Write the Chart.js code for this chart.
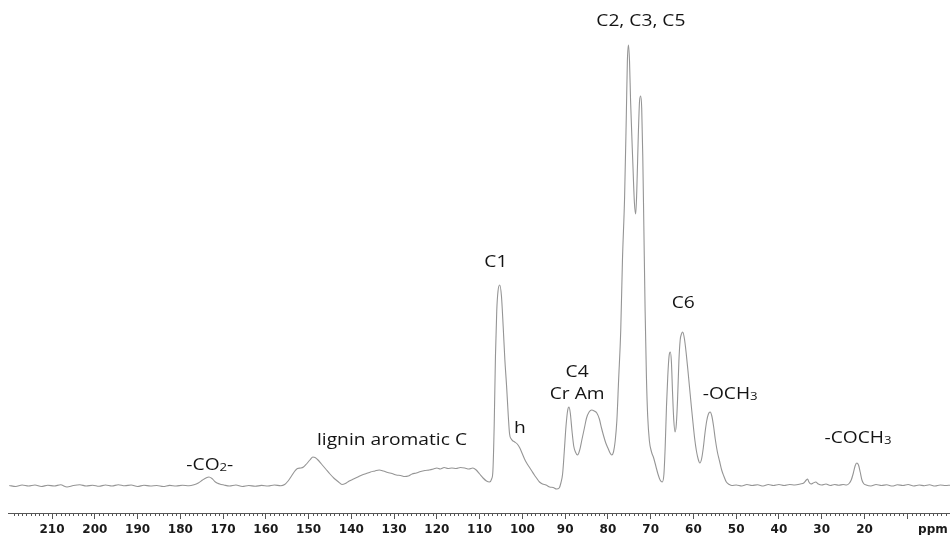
<!DOCTYPE html>
<html>
<head>
<meta charset="utf-8">
<script src="https://cdn.jsdelivr.net/npm/chart.js@4.4.1/dist/chart.umd.min.js"></script>
<style>
html,body{margin:0;padding:0;background:#ffffff;}
canvas{display:block;}
</style>
</head>
<body>
<canvas id="c" width="950" height="535"></canvas>
<script>
// ---- data (chemical shift in ppm, signal intensity in arbitrary units) ----
const ppm = [
220,218.5,217,215.5,214,212.5,211,209.5,208,206.5,205,203.5,202,200.5,199,197.5,196,194.5,193,191.5,190,188.5,187,185.5,184,182.5,181,179.5,178,
176.8,175.8,174.8,174,173.3,172.6,171.8,170.8,169.8,168.5,167,165.5,164,162.5,161,159.5,158,156.5,
155.6,154.8,154,153.2,152.6,151.8,151.2,150.5,149.7,149,148.5,147.8,147,146,145,144,143,142.2,141.4,140.5,139.5,138.5,137.5,136.5,135.5,134.5,133.5,132.5,131.5,130.5,129.5,128.5,127.5,126.7,125.8,124.8,123.8,122.8,121.8,120.8,120,119.2,118.3,117.4,116.5,115.5,114.5,113.5,112.5,111.6,110.8,110,109.2,108.4,107.7,107.2,
106.9,106.6,106.3,106.0,105.7,105.3,104.9,104.5,104.1,103.7,103.3,103.0,102.6,102.2,101.8,101.2,100.6,100.1,99.5,99.0,98.4,97.8,97.2,96.7,96.0,95.3,94.5,93.6,92.8,92.0,91.4,
91.0,90.6,90.2,89.8,89.4,89.1,88.8,88.4,88.0,87.6,87.1,86.6,86.1,85.5,85.0,84.4,83.8,83.2,82.6,82.0,81.5,81.0,80.5,80.0,79.5,79.1,78.7,78.3,77.9,77.5,77.0,76.6,76.1,75.7,75.45,75.2,74.95,74.7,74.2,73.8,73.5,73.25,72.9,72.6,72.35,72.1,71.85,71.6,71.3,71.0,70.7,70.3,69.8,69.3,68.8,68.3,67.8,67.3,
66.9,66.6,66.3,66.0,65.7,65.4,65.15,64.9,64.6,64.3,64.0,63.7,63.4,63.1,62.8,62.5,62.1,61.7,61.3,60.9,60.5,60.1,59.7,59.3,58.9,58.5,58.1,57.7,57.3,56.9,56.5,56.1,55.7,55.3,54.9,54.4,53.9,53.4,52.9,52.3,51.6,51.0,
50,48.7,47.5,46.3,45,43.7,42.5,41.3,40,38.8,37.5,36.3,35,34.2,33.6,33.3,33.0,32.5,32,31.4,30.8,30,29,28,27,26,25,24.2,23.6,23.1,22.6,22.2,21.8,21.4,21.0,20.6,20.2,19.6,18.5,17.3,16,14.8,13.5,12.3,11,9.8,8.5,7.2,6,4.8,3.5,2.3,1,0
];
const intensity = [
0.5,-0.5,1,0,1,-0.5,0.8,0,1.2,-1,0.5,1.2,0,0.8,-0.3,1,0,1.3,0.2,1,-0.5,0.8,0,0.5,-0.5,0.6,0,0.8,0.2,
1.2,3,6,8,9,7.5,4,2,1,0,1,-0.5,0.5,-0.3,0.6,0,1,0.3,
1.5,5,10,15,17.5,18,19,22,26,29,28.5,26,22,17,12,7.5,4,1.5,2.5,5,7,9,11,12.5,14,15,16,15,13.5,12.5,11,10.5,9.5,10,12,13,14.5,15.5,16,17,18,17,18.5,17.5,18,17.5,18.5,18,17,18,16,12,8,5,4,7,
15,60,130,175,195,201,190,160,126,100,70,52,47,45,44,42,38,33,27,23,19,15,11,8,4,2,1,-1,-1.5,-3,-2,
3,12,35,60,76,79,73,55,40,34,31,36,46,58,68,74,76,75,73,67,58,50,43,38,33,31,34,45,66,106,156,226,289,370,425,441,425,385,326,283,272,295,350,385,390,378,330,260,175,110,70,45,34,28,20,12,6,4,
12,40,80,110,130,134,124,95,66,54,62,88,125,146,152,154,147,133,116,98,80,63,47,35,27,23,27,38,53,65,72,74,70,60,47,34,25,16,10,4,1.5,0.5,
1,0,1.5,0.5,1.2,0,1.5,0.5,1.5,0.5,1.5,1,2,3,6,7,4,2,3,4,2,1,2,0.5,1.5,0.8,1.5,1,2.5,6,13,20,23,21,14,6,2.5,1,0,1.5,0.5,1.2,0,1.2,0.5,1.5,0,1,0.3,1.2,0,1,0.5,0.8
];
const tickLabels = [210,200,190,180,170,160,150,140,130,120,110,100,90,80,70,60,50,40,30,20];
const axisUnit = 'ppm';

// peak assignments: text pieces (subscript pieces flagged) and anchor in data space
const annotations = [
  {parts:[['C2, C3, C5',0]], ppm:72.3, at:460},
  {parts:[['C1',0]], ppm:106.2, at:219},
  {parts:[['h',0]], ppm:100.6, at:53},
  {parts:[['C4',0]], ppm:87.2, at:109},
  {parts:[['Cr Am',0]], ppm:87.2, at:87},
  {parts:[['C6',0]], ppm:62.4, at:178},
  {parts:[['-OCH',0],['3',1]], ppm:51.4, at:87},
  {parts:[['-COCH',0],['3',1]], ppm:21.5, at:43},
  {parts:[['-CO',0],['2',1],['-',0]], ppm:173.1, at:16},
  {parts:[['lignin aromatic C',0]], ppm:130.5, at:41}
];

const MAIN_FONT = '16px "Open Sans"';
const SUB_FONT = '11px "Open Sans"';
const STRETCH = 1.2;

const extras = {
  id: 'extras',
  afterDraw(chart) {
    const ctx = chart.ctx;
    const xs = chart.scales.x, ys = chart.scales.y;
    ctx.save();
    // minor ticks every 1 ppm
    ctx.strokeStyle = '#555';
    ctx.lineWidth = 1;
    ctx.beginPath();
    for (let v = 1; v < 220; v++) {
      if (v % 10 === 0) continue;
      const px = Math.round(xs.getPixelForValue(v)) + 0.5;
      ctx.moveTo(px, xs.top);
      ctx.lineTo(px, xs.top + 3);
    }
    ctx.stroke();
    // unit label
    ctx.fillStyle = '#1a1a1a';
    ctx.font = 'bold 12px "DejaVu Sans"';
    ctx.textAlign = 'center';
    ctx.textBaseline = 'middle';
    ctx.fillText(axisUnit, xs.getPixelForValue(4), xs.top + 17);
    // annotations
    ctx.fillStyle = '#141414';
    ctx.textAlign = 'left';
    ctx.textBaseline = 'alphabetic';
    for (const a of annotations) {
      let w = 0;
      for (const [t, sub] of a.parts) { ctx.font = sub ? SUB_FONT : MAIN_FONT; w += ctx.measureText(t).width; }
      const px = xs.getPixelForValue(a.ppm), py = ys.getPixelForValue(a.at);
      ctx.save();
      ctx.translate(px, py);
      ctx.scale(STRETCH, 1);
      let cx = -w / 2;
      for (const [t, sub] of a.parts) {
        ctx.font = sub ? SUB_FONT : MAIN_FONT;
        ctx.fillText(t, cx, sub ? 1 : 0);
        cx += ctx.measureText(t).width;
      }
      ctx.restore();
    }
    ctx.restore();
  }
};

new Chart(document.getElementById('c'), {
  type: 'line',
  data: {
    datasets: [{
      data: ppm.map((p, i) => ({x: p, y: intensity[i]})),
      borderColor: '#959595',
      borderWidth: 1.1,
      pointRadius: 0,
      fill: false,
      cubicInterpolationMode: 'monotone'
    }]
  },
  options: {
    responsive: false,
    animation: false,
    devicePixelRatio: 1,
    layout: {padding: {left: 8, right: 0, top: 0, bottom: 0}},
    plugins: {legend: {display: false}, tooltip: {enabled: false}},
    scales: {
      x: {
        type: 'linear',
        reverse: true,
        min: 0,
        max: 220.3,
        position: 'bottom',
        grid: {drawOnChartArea: false, drawTicks: true, tickLength: 6, tickColor: '#555', tickWidth: 1},
        border: {display: true, color: '#555', width: 1},
        afterBuildTicks: s => { s.ticks = s.ticks.filter(t => Math.abs(t.value - Math.round(t.value / 10) * 10) < 1e-6); },
        afterFit: s => { s.height = 22; s.paddingLeft = 0; s.paddingRight = 0; },
        ticks: {
          stepSize: 10,
          autoSkip: false,
          maxRotation: 0,
          minRotation: 0,
          padding: 5,
          color: '#1a1a1a',
          font: {family: '"DejaVu Sans"', size: 12, weight: 'bold', lineHeight: 1},
          callback: v => tickLabels.includes(v) ? String(v) : ''
        }
      },
      y: {display: false, min: -27, max: 486}
    }
  },
  plugins: [extras]
});
</script>
</body>
</html>
